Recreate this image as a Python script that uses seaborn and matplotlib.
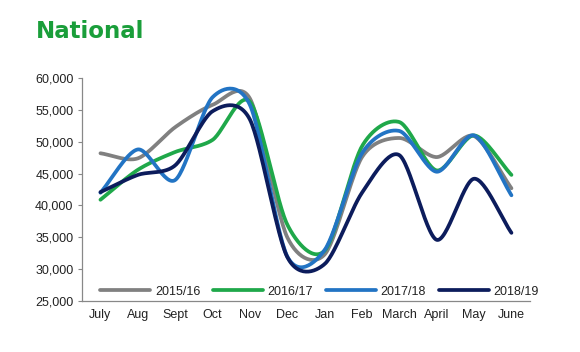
import numpy as np
import matplotlib
matplotlib.use("Agg")
import matplotlib.pyplot as plt
import seaborn as sns

months = ["July", "Aug", "Sept", "Oct", "Nov", "Dec", "Jan", "Feb", "March", "April", "May", "June"]
y2015 = [48200, 47400, 52300, 55800, 56800, 35000, 32300, 47600, 50600, 47600, 50900, 42700]
y2016 = [40900, 45600, 48400, 50300, 56300, 37000, 32900, 49300, 53100, 45500, 51000, 44800]
y2017 = [42000, 48800, 44000, 57000, 55800, 32000, 33000, 48200, 51700, 45300, 51000, 41600]
y2018 = [42100, 44800, 46300, 54800, 53500, 31900, 30800, 42000, 47900, 34600, 44200, 35700]
labels = ["2015/16", "2016/17", "2017/18", "2018/19"]
colors = ["#808080", "#1fa84a", "#2274c4", "#0c1c5c"]


def smooth(y, s=0.85, n=30):
    # cardinal spline through the points, like the smoothed line in the source
    y = np.asarray(y, float)
    x = np.arange(len(y), dtype=float)
    px = np.concatenate([[2 * x[0] - x[1]], x, [2 * x[-1] - x[-2]]])
    py = np.concatenate([[2 * y[0] - y[1]], y, [2 * y[-1] - y[-2]]])
    t = np.linspace(0, 1, n, endpoint=False)
    h00 = 2 * t ** 3 - 3 * t ** 2 + 1
    h10 = t ** 3 - 2 * t ** 2 + t
    h01 = -2 * t ** 3 + 3 * t ** 2
    h11 = t ** 3 - t ** 2
    xs, ys = [], []
    for i in range(1, len(px) - 2):
        for arr, out in ((px, xs), (py, ys)):
            p0, p1, p2, p3 = arr[i - 1:i + 3]
            m1 = s * (p2 - p0) / 2
            m2 = s * (p3 - p1) / 2
            out.extend(h00 * p1 + h10 * m1 + h01 * p2 + h11 * m2)
    xs.append(x[-1])
    ys.append(y[-1])
    return np.array(xs), np.array(ys)


sns.set_style("white")
plt.rcParams["font.family"] = ["Liberation Sans", "DejaVu Sans"]

fig = plt.figure(figsize=(5.8, 3.52), dpi=100)
ax = fig.add_axes([0.141, 0.145, 0.773, 0.633])

for vals, lab, c in zip([y2015, y2016, y2017, y2018], labels, colors):
    xs, ys = smooth(vals)
    sns.lineplot(x=xs, y=ys, ax=ax, color=c, linewidth=2.7, label=lab, sort=False)

ax.set_xlim(-0.5, 11.5)
ax.set_ylim(25000, 60000)
ax.set_yticks(range(25000, 60001, 5000))
ax.set_yticklabels([f"{v:,}" for v in range(25000, 60001, 5000)], fontsize=9, color="#222222")
ax.set_xticks(range(12))
ax.set_xticklabels(months, fontsize=9, color="#222222")
ax.set_xticks(np.arange(-0.5, 12, 1), minor=True)
ax.tick_params(axis="x", which="major", length=0, pad=6)
ax.tick_params(axis="x", which="minor", length=3, color="#888888", width=0.8)
ax.tick_params(axis="y", length=3, color="#888888", width=0.8, left=True, pad=3)

for s in ["top", "right"]:
    ax.spines[s].set_visible(False)
for s in ["left", "bottom"]:
    ax.spines[s].set_color("#888888")
    ax.spines[s].set_linewidth(0.9)

leg = ax.legend(loc="lower center", bbox_to_anchor=(0.53, -0.035), ncol=4, frameon=False,
                fontsize=9, handlelength=4.0, columnspacing=1.0, handletextpad=0.4)
for t in leg.get_texts():
    t.set_color("#222222")

fig.text(0.062, 0.91, "National", color="#1a9e3a", fontsize=16.5, fontweight="bold",
         family="DejaVu Sans", va="center", ha="left")

fig.savefig("out.png", dpi=100)
